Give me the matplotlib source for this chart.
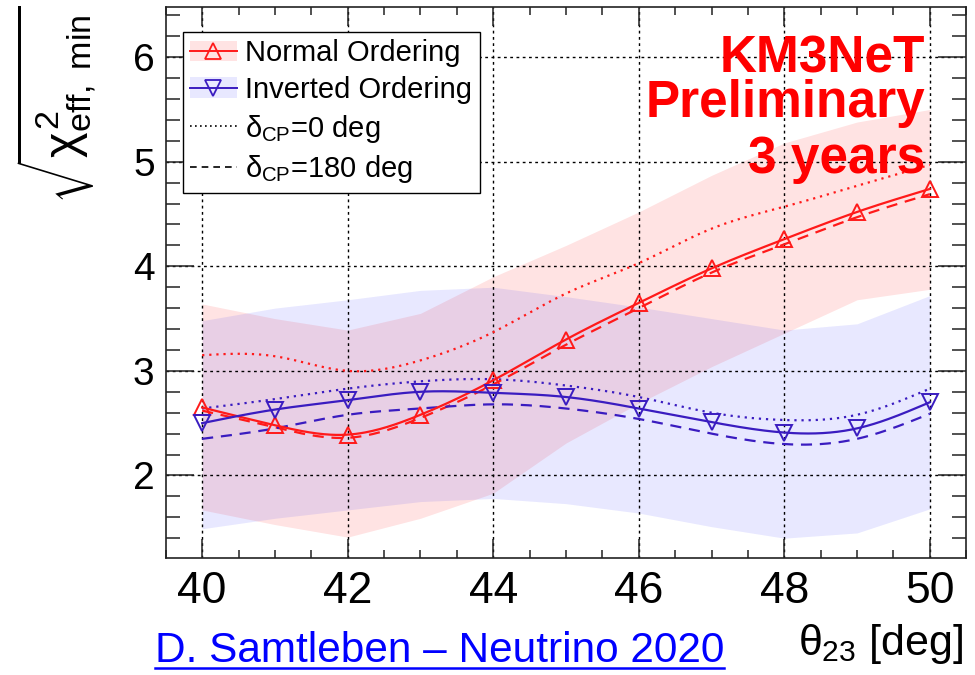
import numpy as np
import matplotlib
matplotlib.use("Agg")
from matplotlib import pyplot as plt
from matplotlib.patches import Patch
from matplotlib.lines import Line2D
from matplotlib.ticker import MultipleLocator

plt.rcParams['font.family'] = ['Liberation Sans', 'DejaVu Sans']
plt.rcParams['mathtext.fontset'] = 'custom'
plt.rcParams['mathtext.rm'] = 'Liberation Sans'
plt.rcParams['mathtext.it'] = 'Liberation Sans'
plt.rcParams['mathtext.bf'] = 'Liberation Sans:bold'

# theta23 grid [deg]
theta = [40, 41, 42, 43, 44, 45, 46, 47, 48, 49, 50]

# normal ordering
no_mean = [2.65, 2.48, 2.39, 2.58, 2.91, 3.30, 3.65, 3.98, 4.26, 4.52, 4.74]
no_d0 = [3.15, 3.14, 3.00, 3.10, 3.37, 3.74, 4.03, 4.36, 4.57, 4.77, 4.97]
no_d180 = [2.62, 2.46, 2.36, 2.55, 2.87, 3.25, 3.60, 3.94, 4.21, 4.47, 4.69]
no_lo = [1.67, 1.53, 1.41, 1.59, 1.83, 2.31, 2.69, 3.04, 3.36, 3.68, 3.78]
no_hi = [3.64, 3.50, 3.39, 3.55, 3.90, 4.20, 4.52, 4.87, 5.18, 5.38, 5.50]

# inverted ordering
io_mean = [2.50, 2.63, 2.72, 2.80, 2.79, 2.75, 2.64, 2.51, 2.41, 2.45, 2.70]
io_d0 = [2.64, 2.73, 2.83, 2.90, 2.92, 2.86, 2.75, 2.60, 2.53, 2.58, 2.83]
io_d180 = [2.35, 2.45, 2.58, 2.64, 2.68, 2.64, 2.54, 2.40, 2.30, 2.35, 2.59]
io_lo = [1.49, 1.59, 1.67, 1.75, 1.78, 1.73, 1.64, 1.51, 1.40, 1.45, 1.68]
io_hi = [3.48, 3.60, 3.68, 3.77, 3.80, 3.71, 3.61, 3.50, 3.39, 3.45, 3.72]

RED = '#ff1a1a'
BLUE = '#3a1cc0'


def smooth(x, y, npts=300):
	# natural cubic spline through the points, like ROOT's "C" draw option
	x = np.asarray(x, float)
	y = np.asarray(y, float)
	n = len(x)
	h = np.diff(x)
	A = np.zeros((n, n))
	b = np.zeros(n)
	A[0, 0] = A[-1, -1] = 1
	for i in range(1, n - 1):
		A[i, i - 1] = h[i - 1]
		A[i, i] = 2 * (h[i - 1] + h[i])
		A[i, i + 1] = h[i]
		b[i] = 6 * ((y[i + 1] - y[i]) / h[i] - (y[i] - y[i - 1]) / h[i - 1])
	M = np.linalg.solve(A, b)
	xs = np.linspace(x[0], x[-1], npts)
	k = np.clip(np.searchsorted(x, xs) - 1, 0, n - 2)
	t0 = x[k + 1] - xs
	t1 = xs - x[k]
	ys = (M[k] * t0**3 + M[k + 1] * t1**3) / (6 * h[k]) \
		+ (y[k] / h[k] - M[k] * h[k] / 6) * t0 \
		+ (y[k + 1] / h[k] - M[k + 1] * h[k] / 6) * t1
	return xs, ys


fig = plt.figure(figsize=(9.75, 6.75), dpi=100)
ax = fig.add_axes([0.170, 0.1733, 0.821, 0.8163])

ax.fill_between(theta, no_lo, no_hi, color='#ff0000', alpha=0.11, lw=0, zorder=1)
ax.fill_between(theta, io_lo, io_hi, color='#2020ff', alpha=0.10, lw=0, zorder=1)

for yv, col, mk in [(no_mean, RED, '^'), (io_mean, BLUE, 'v')]:
	xs, ys = smooth(theta, yv)
	ax.plot(xs, ys, color=col, lw=1.6, zorder=4)
	ax.plot(theta, yv, ls='none', marker=mk, ms=11, mfc='none', mec=col, mew=1.4, zorder=5)

for yv, col in [(no_d0, RED), (io_d0, BLUE)]:
	xs, ys = smooth(theta, yv)
	ax.plot(xs, ys, color=col, lw=1.6, ls=(0, (1, 2.2)), zorder=3)
for yv, col in [(no_d180, RED), (io_d180, BLUE)]:
	xs, ys = smooth(theta, yv)
	ax.plot(xs, ys, color=col, lw=1.6, ls=(0, (5, 3.5)), zorder=3)

ax.set_xlim(39.5, 50.5)
ax.set_ylim(1.21, 6.48)
ax.xaxis.set_major_locator(MultipleLocator(2))
ax.xaxis.set_minor_locator(MultipleLocator(0.5))
ax.yaxis.set_major_locator(MultipleLocator(1))
ax.yaxis.set_minor_locator(MultipleLocator(0.2))
ax.grid(True, which='major', color='black', lw=1.0, ls=(0, (2, 2.5)), zorder=2)
ax.tick_params(which='both', direction='in', top=True, right=True, width=1.1, color='#222222')
ax.tick_params(axis='x', which='major', length=14, pad=9, labelsize=32)
ax.tick_params(axis='x', which='minor', length=6)
ax.tick_params(axis='y', which='major', length=20, pad=8, labelsize=28)
ax.tick_params(axis='y', which='minor', length=10)
for sp in ax.spines.values():
	sp.set_linewidth(1.2)
	sp.set_color('#222222')

# legend
h_no = (Patch(facecolor='#ff0000', alpha=0.11, lw=0),
	Line2D([], [], color=RED, lw=1.4, marker='^', ms=11, mfc='none', mec=RED, mew=1.3))
h_io = (Patch(facecolor='#2020ff', alpha=0.10, lw=0),
	Line2D([], [], color=BLUE, lw=1.4, marker='v', ms=11, mfc='none', mec=BLUE, mew=1.3))
h_d0 = Line2D([], [], color='black', lw=1.2, ls=(0, (1, 2)))
h_d180 = Line2D([], [], color='black', lw=1.2, ls=(0, (4, 3)))
leg = ax.legend([h_no, h_io, h_d0, h_d180],
	['Normal Ordering', 'Inverted Ordering', r'$\delta_{\rm CP}$=0 deg', r'$\delta_{\rm CP}$=180 deg'],
	loc='upper left', bbox_to_anchor=(0.021, 0.955), fontsize=21, frameon=True, fancybox=False,
	edgecolor='black', framealpha=1, handlelength=1.6, handletextpad=0.3, labelspacing=0.3,
	borderpad=0.25, borderaxespad=0)
leg.get_frame().set_linewidth(1.0)
leg.set_zorder(10)

# experiment labels
for txt, yb in [('KM3NeT', 0.882), ('Preliminary', 0.800), ('3 years', 0.699)]:
	ax.text(0.949, yb, txt, transform=ax.transAxes, ha='right', va='baseline',
		fontsize=37, fontweight='bold', color='#ff0000', zorder=11)

# axis titles
fig.text(0.988, (675 - 655) / 675, r'$\theta_{23}$ [deg]', ha='right', va='baseline', fontsize=31)
fig.text(0.058, 0.992, r'$\sqrt{\chi^2_{\rm eff,\ min}}$', ha='center', va='top', rotation=90, fontsize=35)

# credit line, underlined
cred = fig.text(0.159, (675 - 661.5) / 675, 'D. Samtleben \u2013 Neutrino 2020', ha='left', va='baseline',
	fontsize=30.5, color='#0000ff')
fig.canvas.draw()
bb = cred.get_window_extent().transformed(fig.transFigure.inverted())
fig.add_artist(Line2D([bb.x0, bb.x1], [0.0105, 0.0105], color='#0000ff', lw=1.8, transform=fig.transFigure))

plt.savefig('out.png', dpi=100)
plt.close('all')
